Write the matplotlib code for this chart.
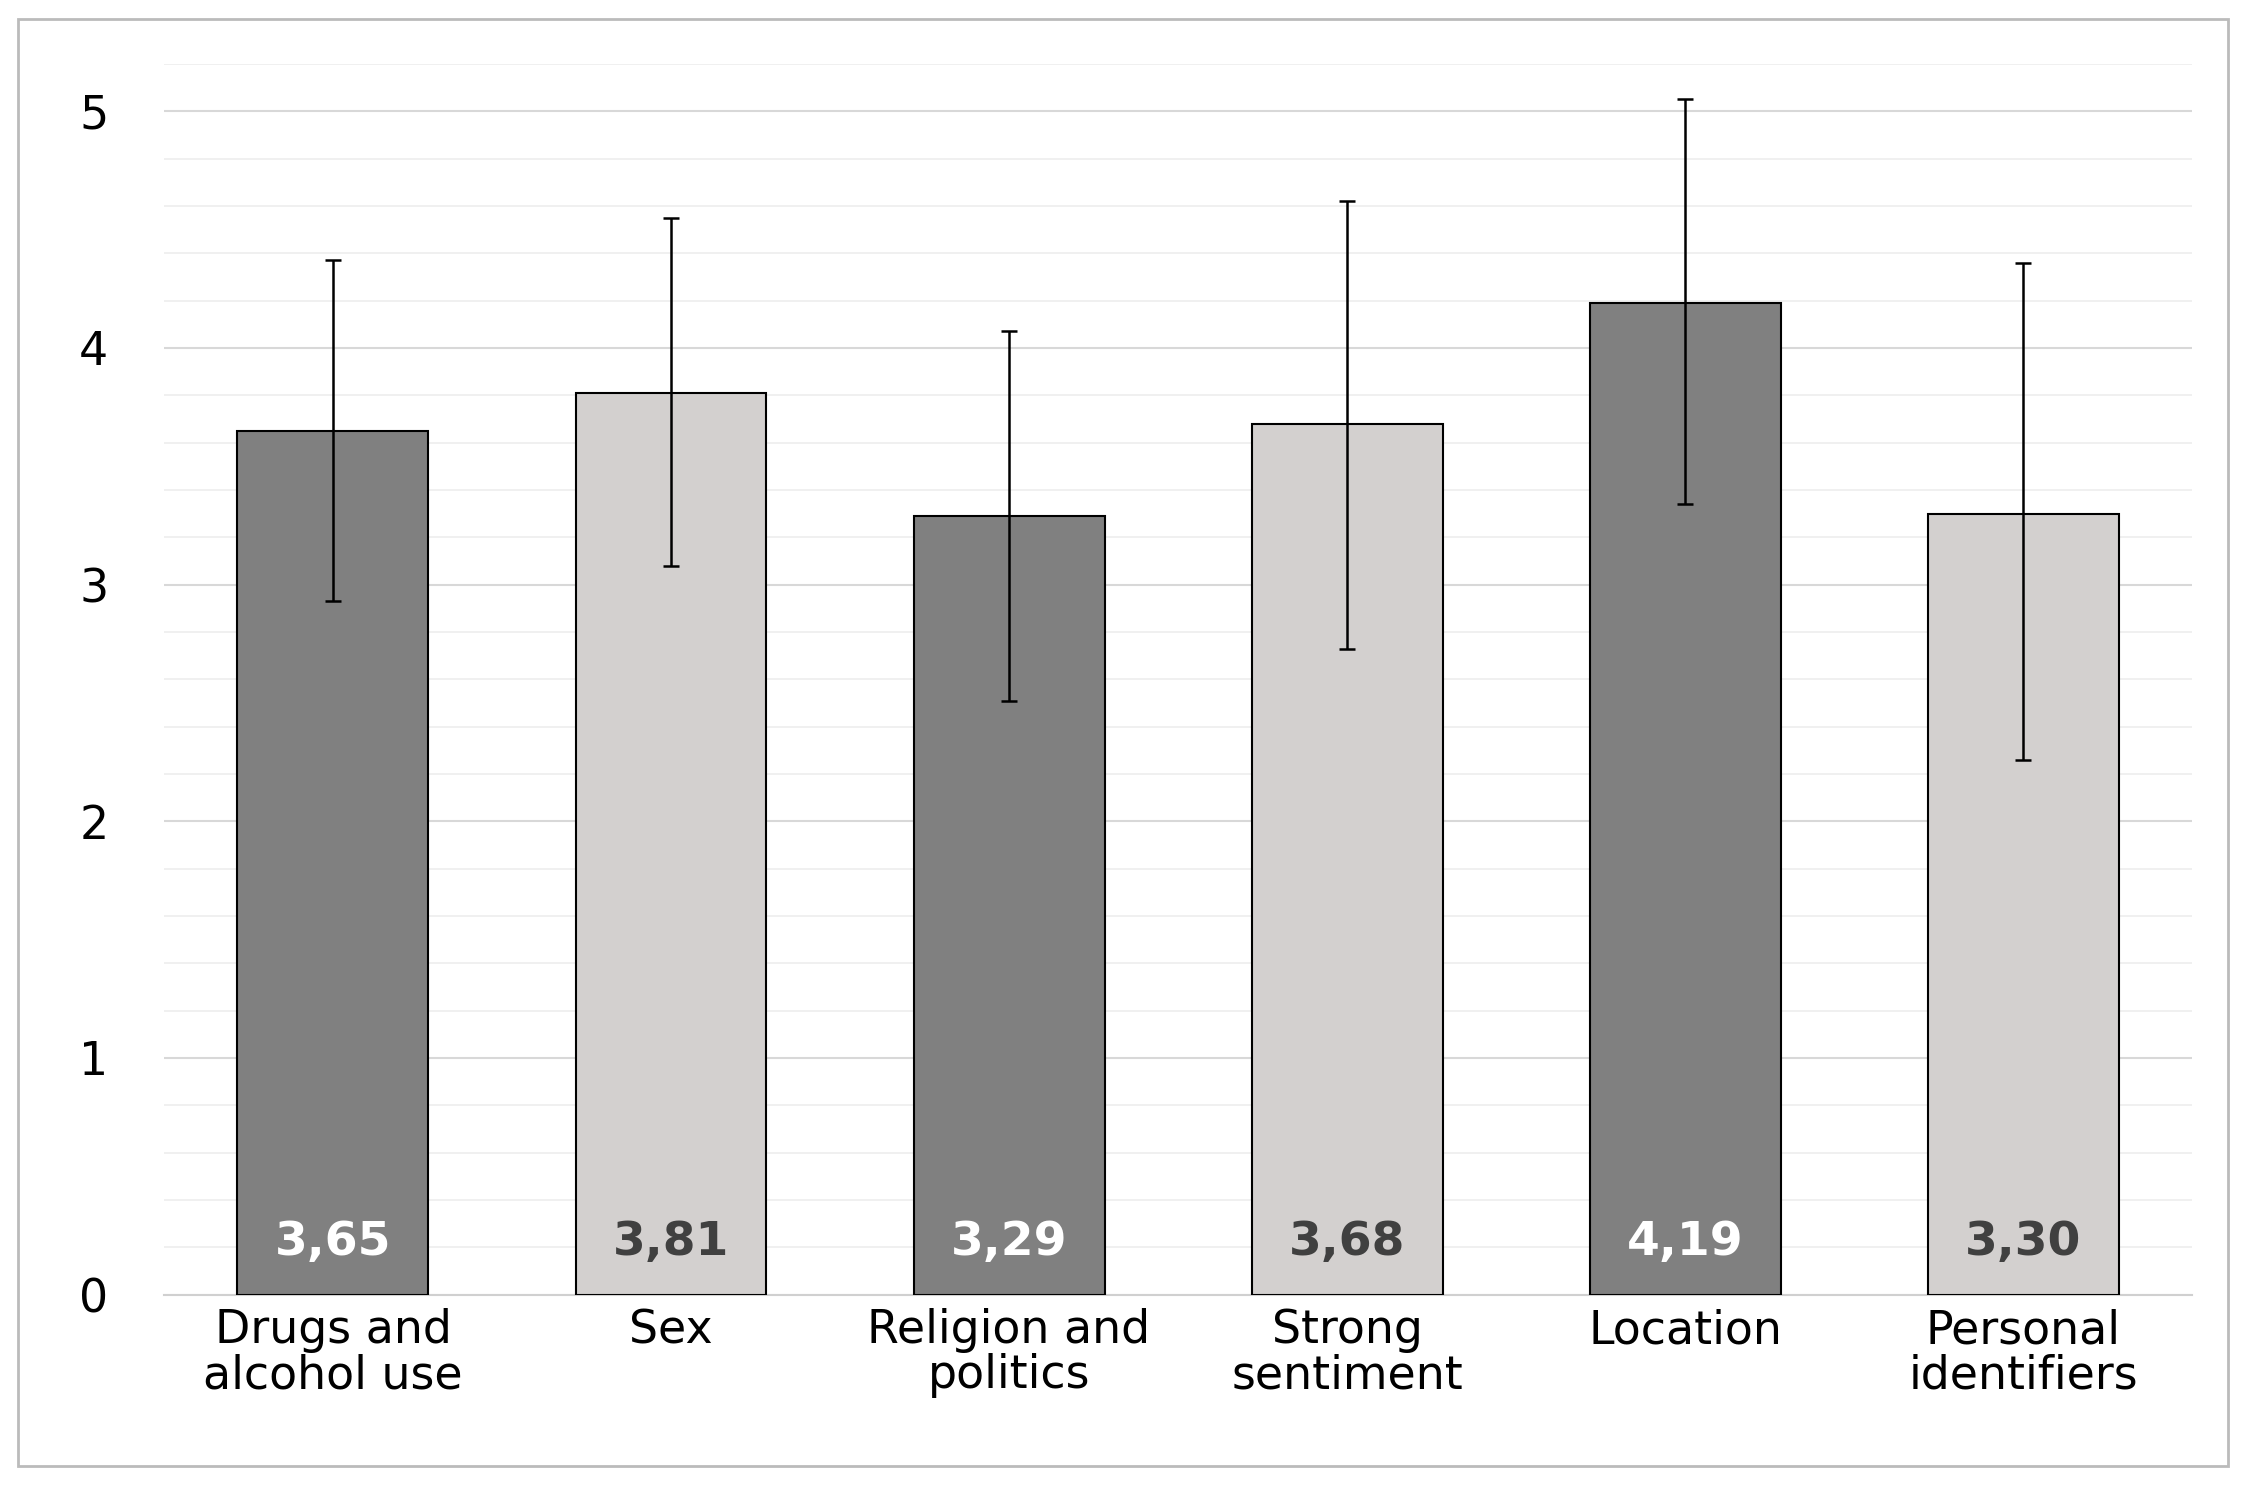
import matplotlib.pyplot as plt
from matplotlib.patches import Rectangle

categories = ["Drugs and\nalcohol use", "Sex", "Religion and\npolitics",
              "Strong\nsentiment", "Location", "Personal\nidentifiers"]
means = [3.65, 3.81, 3.29, 3.68, 4.19, 3.30]
err_low = [2.93, 3.08, 2.51, 2.73, 3.34, 2.26]
err_high = [4.37, 4.55, 4.07, 4.62, 5.05, 4.36]
labels = ["3,65", "3,81", "3,29", "3,68", "4,19", "3,30"]

dark = "#808080"
light = "#d3d0cf"
colors = [dark, light] * 3

fig = plt.figure(figsize=(22.46, 14.88), dpi=100)
fig.patches.append(Rectangle((0.008, 0.015), 0.984, 0.972, transform=fig.transFigure,
                             fill=False, edgecolor="#bbbbbb", linewidth=2))
ax = fig.add_axes([0.073, 0.13, 0.903, 0.827])

x = range(len(categories))
yerr = [[m - lo for m, lo in zip(means, err_low)], [hi - m for m, hi in zip(means, err_high)]]
ax.bar(x, means, width=0.565, color=colors, edgecolor="black", linewidth=1.5, zorder=3)
ax.errorbar(x, means, yerr=yerr, fmt="none", ecolor="black", elinewidth=1.8,
            capsize=6, capthick=1.8, zorder=4)

for i, lab in enumerate(labels):
    c = "white" if colors[i] == dark else "#404040"
    ax.text(i, 0.22, lab, ha="center", va="center", fontsize=34, fontweight="bold", color=c, zorder=5)

ax.set_ylim(0, 5.2)
ax.set_xlim(-0.5, 5.5)
ax.set_yticks(range(6))
ax.set_yticks([k * 0.2 for k in range(27)], minor=True)
ax.grid(axis="y", which="major", color="#d8d8d8", linewidth=1.5, zorder=0)
ax.grid(axis="y", which="minor", color="#eeeeee", linewidth=1.2, zorder=0)
ax.set_xticks(list(x))
ax.set_xticklabels(categories, fontsize=33, linespacing=1.0)
ax.tick_params(axis="y", labelsize=33, length=0, pad=40)
ax.tick_params(axis="x", length=0, pad=10)
ax.tick_params(which="minor", length=0)
for s in ["top", "right", "left"]:
    ax.spines[s].set_visible(False)
ax.spines["bottom"].set_color("#d0d0d0")
ax.spines["bottom"].set_linewidth(1.5)

fig.savefig("out.png", dpi=100)
